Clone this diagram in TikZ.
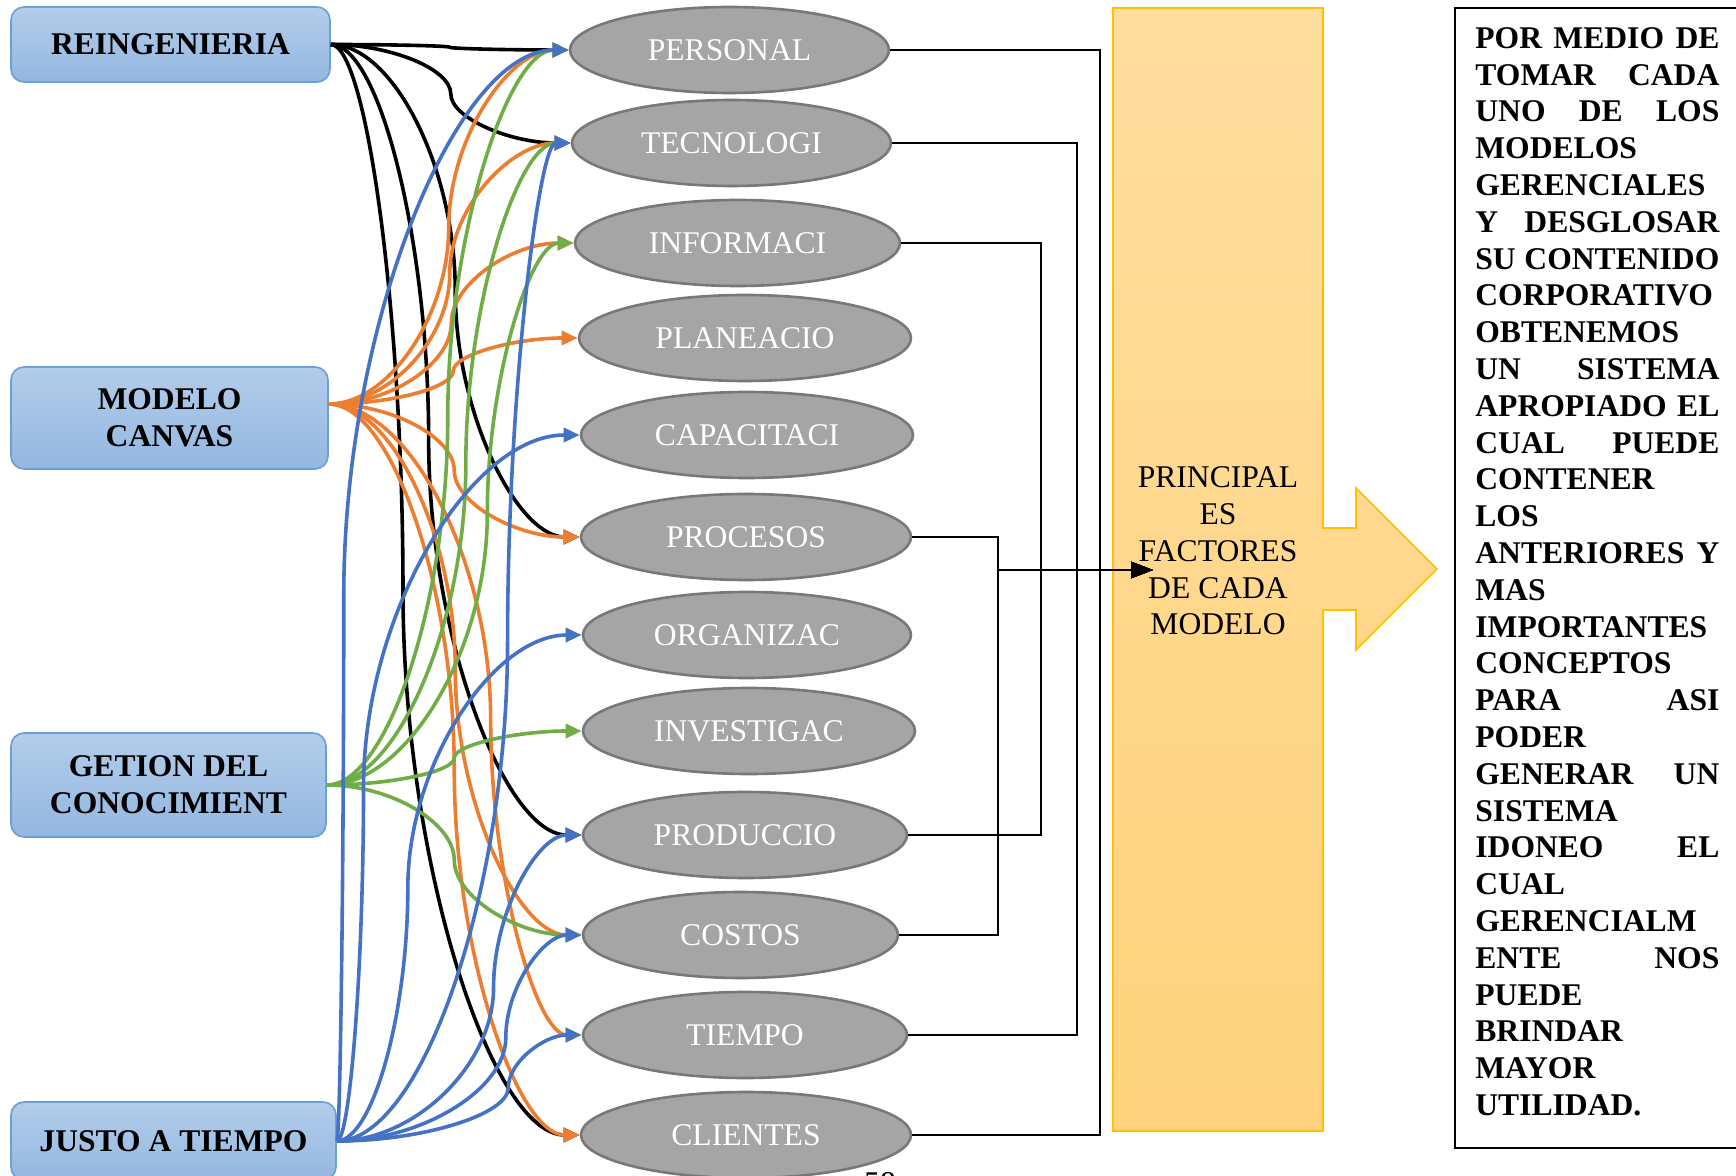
\documentclass[tikz,border=0pt]{standalone}
\usepackage{fontspec}
\setmainfont{Liberation Serif}
\usetikzlibrary{shapes.geometric,arrows.meta,calc}

\definecolor{cOrange}{HTML}{ED7D31}
\definecolor{cGreen}{HTML}{70AD47}
\definecolor{cBlue}{HTML}{4472C4}
\definecolor{ellFill}{HTML}{A5A5A5}
\definecolor{ellLine}{HTML}{787878}
\definecolor{boxTop}{HTML}{B3CDEA}
\definecolor{boxBot}{HTML}{93B7E1}
\definecolor{boxLine}{HTML}{6A9FD8}
\definecolor{bandTop}{HTML}{FFDD9E}
\definecolor{bandBot}{HTML}{FFD37D}
\definecolor{bandLine}{HTML}{FFC000}

% S-shaped curved connector: horizontal at both ends, vertical in the middle.
% #1 colour/style, #2 start, #3 end, #4 position of the vertical part (fraction of the span)
\newcommand\sconn[4]{%
  \draw[curve,#1] let \p1=(#2), \p2=(#3) in
    (\p1) .. controls ({0.5*\x1+0.5*(\x1+#4*(\x2-\x1))},\y1)
             and ({\x1+#4*(\x2-\x1)},{0.75*\y1+0.25*\y2}) ..
    ({\x1+#4*(\x2-\x1)},{0.5*\y1+0.5*\y2})
          .. controls ({\x1+#4*(\x2-\x1)},{0.25*\y1+0.75*\y2})
             and ({0.5*\x2+0.5*(\x1+#4*(\x2-\x1))},\y2) .. (\p2);}

\begin{document}
\begin{tikzpicture}[x=0.5pt,y=-0.5pt,
  model/.style={draw=boxLine, line width=0.8pt, rounded corners=6.5pt,
    top color=boxTop, bottom color=boxBot, inner sep=0pt, align=center,
    font=\fontsize{15.8}{18.4}\selectfont\bfseries},
  factor/.style={ellipse, draw=ellLine, fill=ellFill, line width=1.3pt,
    minimum height=43pt, inner sep=0pt, text=white,
    font=\fontsize{15.8}{18.4}\selectfont},
  curve/.style={line width=1.8pt, -{Triangle[length=8pt,width=7pt]}},
  flow/.style={line width=1.3pt, -{Triangle[length=11pt,width=8pt]}},
]
\useasboundingbox (0,0) rectangle (1736,1176);

% management models
\node[model, minimum width=159.5pt, minimum height=37.5pt] (reing)  at (170.5,44.5) {REINGENIERIA};
\node[model, minimum width=158.5pt, minimum height=51pt]   (canvas) at (169.5,418)  {MODELO\\CANVAS};
\node[model, minimum width=157.5pt, minimum height=52pt]   (getion) at (168.5,785)  {GETION DEL\\CONOCIMIENT};
\node[model, minimum width=162.5pt, minimum height=39pt]   (justo)  at (173.5,1141) {JUSTO A TIEMPO};

% factors
\node[factor, minimum width=159.5pt] (personal) at (729.5,50)  {PERSONAL};
\node[factor, minimum width=159.5pt] (tecno)    at (731.5,143) {TECNOLOGI};
\node[factor, minimum width=162.5pt] (inform)   at (737.5,243) {INFORMACI};
\node[factor, minimum width=166pt]   (planea)   at (745,338)   {PLANEACIO};
\node[factor, minimum width=166pt]   (capac)    at (747,435)   {CAPACITACI};
\node[factor, minimum width=165pt]   (proces)   at (746,537)   {PROCESOS};
\node[factor, minimum width=164pt]   (organ)    at (747,635)   {ORGANIZAC};
\node[factor, minimum width=166pt]   (invest)   at (749,731)   {INVESTIGAC};
\node[factor, minimum width=162pt]   (produc)   at (745,835)   {PRODUCCIO};
\node[factor, minimum width=157.5pt] (costos)   at (740.5,935) {COSTOS};
\node[factor, minimum width=162pt]   (tiempo)   at (745,1035)  {TIEMPO};
\node[factor, minimum width=165pt]   (clientes) at (746,1135)  {CLIENTES};

% summary band with its arrow
\fill[top color=bandTop, bottom color=bandBot]
  (1113,8) -- (1323,8) -- (1323,528) -- (1356,528) -- (1356,488) -- (1437,569)
  -- (1356,650) -- (1356,610) -- (1323,610) -- (1323,1131) -- (1113,1131) -- cycle;
\draw[bandLine, line width=0.8pt]
  (1113,8) -- (1323,8) -- (1323,528) -- (1356,528) -- (1356,488) -- (1437,569)
  -- (1356,650) -- (1356,610) -- (1323,610) -- (1323,1131) -- (1113,1131) -- cycle;
\node[align=center, inner sep=0pt, font=\fontsize{15.8}{18.4}\selectfont] (band) at (1218,551)
  {PRINCIPAL\\ES\\FACTORES\\DE CADA\\MODELO};

% conclusion text
\draw[black, line width=0.75pt] (1455,8) rectangle (1760,1148);
\node[anchor=north west, inner sep=0pt, text width=122pt, align=left,
  font=\fontsize{15.8}{18.4}\selectfont\bfseries] (concl) at (1475,27)
{POR\hfill MEDIO\hfill DE\\
TOMAR\hfill CADA\\
UNO\hfill DE\hfill LOS\\
MODELOS\\
GERENCIALES\\
Y\hfill DESGLOSAR\\
SU\hfill CONTENIDO\\
CORPORATIVO\\
OBTENEMOS\\
UN\hfill SISTEMA\\
APROPIADO\hfill EL\\
CUAL\hfill PUEDE\\
CONTENER\\
LOS\\
ANTERIORES\hfill Y\\
MAS\\
IMPORTANTES\\
CONCEPTOS\\
PARA\hfill ASI\\
PODER\\
GENERAR\hfill UN\\
SISTEMA\\
IDONEO\hfill EL\\
CUAL\\
GERENCIALM\\
ENTE\hfill NOS\\
PUEDE\\
BRINDAR\\
MAYOR\\
UTILIDAD.};

% factors gathered into the band
\coordinate (hub) at (1153,570);
\coordinate (k1) at (998,570);
\coordinate (k2) at (1041,570);
\coordinate (k3) at (1077,570);
\coordinate (k4) at (1100,570);
\draw[flow] (personal.east) -| (k4) -- (hub);
\draw[flow] (tecno.east)    -| (k3) -- (hub);
\draw[flow] (inform.east)   -| (k2) -- (hub);
\draw[flow] (proces.east)   -| (k1) -- (hub);
\draw[flow] (produc.east)   -| (k2) -- (hub);
\draw[flow] (costos.east)   -| (k1) -- (hub);
\draw[flow] (tiempo.east)   -| (k3) -- (hub);
\draw[flow] (clientes.east) -| (k4) -- (hub);

% REINGENIERIA
\sconn{black}{reing.east}{personal.west}{0.5}
\sconn{black}{reing.east}{tecno.west}{0.5}
\sconn{black}{reing.east}{proces.west}{0.5}
\sconn{black}{reing.east}{produc.west}{0.39}
\sconn{black}{reing.east}{clientes.west}{0.29}

% MODELO CANVAS
\sconn{cOrange}{canvas.5}{personal.west}{0.5}
\sconn{cOrange}{canvas.5}{tecno.west}{0.5}
\sconn{cOrange}{canvas.5}{inform.west}{0.5}
\sconn{cOrange}{canvas.5}{planea.west}{0.5}
\sconn{cOrange}{canvas.5}{proces.west}{0.5}
\sconn{cOrange}{canvas.5}{costos.west}{0.5}
\sconn{cOrange}{canvas.5}{tiempo.west}{0.64}
\sconn{cOrange}{canvas.5}{clientes.west}{0.5}

% GETION DEL CONOCIMIENT
\sconn{cGreen}{getion.east}{personal.west}{0.5}
\sconn{cGreen}{getion.east}{tecno.west}{0.57}
\sconn{cGreen}{getion.east}{inform.west}{0.65}
\sconn{cGreen}{getion.east}{invest.west}{0.5}
\sconn{cGreen}{getion.east}{costos.west}{0.5}

% JUSTO A TIEMPO
\sconn{cBlue}{justo.east}{personal.west}{0.03}
\sconn{cBlue}{justo.east}{tecno.west}{0.73}
\sconn{cBlue}{justo.east}{capac.west}{0.11}
\sconn{cBlue}{justo.east}{organ.west}{0.29}
\sconn{cBlue}{justo.east}{produc.west}{0.64}
\sconn{cBlue}{justo.east}{costos.west}{0.69}
\sconn{cBlue}{justo.east}{tiempo.west}{0.70}

% page number at the foot
\node[anchor=base, inner sep=0pt, font=\fontsize{15.8}{18.4}\selectfont] (pagenum) at (880,1193) {58};
\end{tikzpicture}
\end{document}
